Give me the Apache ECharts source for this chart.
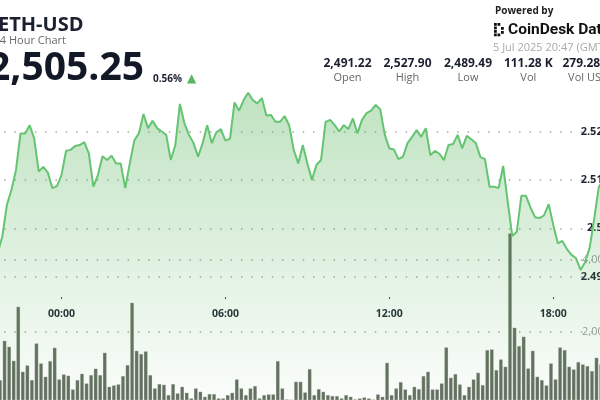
<!DOCTYPE html>
<html><head><meta charset="utf-8">
<script src="https://cdn.jsdelivr.net/npm/echarts@6/dist/echarts.min.js"></script>
<style>html,body{margin:0;padding:0;background:#fff;overflow:hidden}#c{width:600px;height:400px}</style>
</head><body><div id="c"></div>
<script>
// time of first 10-minute point, in minutes relative to 00:00 (21:40 previous day)
const startMinute = -140;
const stepMinutes = 10;

// ETH-USD close price per 10-minute interval
const prices = [
2495.0,2498.3,2504.8,2507.9,2512.0,2519.6,2519.6,2521.3,2518.6,2511.7,2512.7,2511.5,2508.3,2508.7,
2511.0,2516.0,2516.2,2517.0,2517.2,2517.8,2515.5,2508.6,2511.0,2514.9,2514.1,2515.0,2513.4,2513.4,
2508.3,2513.4,2518.2,2519.6,2523.6,2520.7,2522.2,2520.7,2520.0,2519.3,2514.1,2517.2,2525.7,2521.7,
2519.3,2517.6,2514.8,2517.6,2521.3,2517.6,2519.8,2520.5,2518.1,2518.5,2526.0,2524.3,2526.5,2528.0,
2526.5,2525.8,2526.9,2523.3,2523.4,2522.0,2522.0,2523.2,2521.3,2516.2,2513.4,2517.2,2513.4,2510.0,
2513.1,2514.1,2522.0,2522.4,2521.3,2520.0,2521.3,2520.5,2522.7,2519.6,2522.4,2523.8,2524.3,2525.5,
2524.6,2519.3,2516.5,2516.3,2514.3,2514.8,2517.6,2518.9,2520.3,2518.9,2520.7,2515.1,2516.0,2515.4,
2514.1,2517.2,2517.4,2519.3,2516.5,2519.1,2518.4,2517.6,2514.7,2514.3,2508.6,2508.6,2508.3,2512.9,
2505.5,2498.4,2499.3,2506.7,2506.7,2504.3,2502.3,2502.1,2502.7,2505.0,2500.7,2496.9,2497.4,2495.7,
2494.5,2493.8,2491.4,2493.0,2496.0,2502.0,2508.5,2510.0
];

// ETH volume per 10-minute interval
const volumes = [
665,1753,1587,1200,2695,895,1071,665,1680,1127,757,1191,1560,684,
822,785,406,665,840,572,803,979,803,1421,479,518,546,776,
1080,2806,1476,1385,1460,803,435,554,535,249,554,296,479,313,
158,435,341,202,277,277,158,158,249,313,684,435,249,435,
499,158,249,269,269,1191,435,130,120,618,618,323,970,249,
415,341,249,222,222,158,249,202,130,158,185,158,125,269,
202,1144,249,435,609,406,249,479,415,776,895,406,406,572,
1570,729,831,545,249,479,684,868,526,1496,1514,942,1237,1034,
4730,2114,1607,1865,988,1477,757,665,518,1127,684,1570,1496,1034,
961,1163,1099,1053,914,1283,1100,1000
];

const timeTicks = [0, 360, 720, 1080];
const timeTickLabels = ['00:00', '06:00', '12:00', '18:00'];
const priceTicks = [2490, 2500, 2510, 2520];
const volumeTicks = [2000, 4000];

const statValues = ['2,491.22', '2,527.90', '2,489.49', '111.28 K', '279.28 M'];
const statLabels = ['Open', 'High', 'Low', 'Vol', 'Vol USD'];

const times = prices.map((_, i) => startMinute + i * stepMinutes);
const lineData = prices.map((p, i) => [times[i], p]);
const barData = volumes.map((v, i) => [times[i] + stepMinutes / 2, v]);

const FONT = '"Open Sans", "Noto Sans", sans-serif';
const dotted = { type: [1.5, 8.8], color: '#a8a8a8', width: 1.5, dashOffset: -4 };

const graphics = [
  { type: 'text', x: -2, y: 25.3, style: { text: 'ETH-USD', fontFamily: FONT, fontSize: 20, fontWeight: 'bold', fill: '#1b2030', align: 'left', verticalAlign: 'middle' } },
  { type: 'text', x: -6.5, y: 40.5, style: { text: '24 Hour Chart', fontFamily: FONT, fontSize: 11, fill: '#6b6b6b', align: 'left', verticalAlign: 'middle' } },
  { type: 'text', x: -12, y: 69, style: { text: '2,505.25', fontFamily: FONT, fontSize: 39, fontWeight: 'bold', fill: '#121826', align: 'left', verticalAlign: 'middle' } },
  { type: 'text', x: 153, y: 79.3, style: { text: '0.56%', fontFamily: FONT, fontSize: 10, fontWeight: 'bold', fill: '#1b2030', align: 'left', verticalAlign: 'middle' } },
  { type: 'text', x: 187, y: 79, style: { text: '▲', fontFamily: 'DejaVu Sans', fontSize: 12, fill: '#5ab760', align: 'left', verticalAlign: 'middle' } },
  { type: 'text', x: 495, y: 11, style: { text: 'Powered by', fontFamily: FONT, fontSize: 10, fontWeight: 'bold', fill: '#222', align: 'left', verticalAlign: 'middle' } },
  { type: 'text', x: 508, y: 30, style: { text: 'CoinDesk Data', fontFamily: 'Roboto, sans-serif', fontSize: 15.5, fontWeight: 'bold', fill: '#111', align: 'left', verticalAlign: 'middle' } },
  { type: 'text', x: 493, y: 47.5, style: { text: '5 Jul 2025 20:47 (GMT)', fontFamily: FONT, fontSize: 11, fill: '#a9a9a9', align: 'left', verticalAlign: 'middle' } }
];
// logo mark: bracket of small squares and a colon
[[494,23],[494,26.5],[494,30],[494,33.5],[497.5,23],[497.5,33.5],[501,27],[501,31]].forEach(p => {
  graphics.push({ type: 'rect', shape: { x: p[0], y: p[1], width: 2.8, height: 2.8 }, style: { fill: '#111' } });
});
const statCenters = [347.5, 407.5, 468, 528.3, 588.5];
statValues.forEach((t, i) => {
  graphics.push({ type: 'text', x: statCenters[i], y: 63.5, style: { text: t, fontFamily: FONT, fontSize: 12, fontWeight: 'bold', fill: '#1b2030', align: 'center', verticalAlign: 'middle' } });
  graphics.push({ type: 'text', x: statCenters[i], y: 78, style: { text: statLabels[i], fontFamily: FONT, fontSize: 11, fill: '#666', align: 'center', verticalAlign: 'middle' } });
});

const chart = echarts.init(document.getElementById('c'), null, { renderer: 'canvas' });
chart.setOption({
  animation: false,
  backgroundColor: '#fff',
  grid: { left: 0, top: 0, right: 0, bottom: 0, containLabel: false, outerBoundsMode: 'none' },
  xAxis: {
    type: 'value',
    min: -135.07, max: 1182.66,
    offset: -103,
    axisLine: { show: false },
    splitLine: { show: false },
    axisTick: { show: true, length: 2, customValues: timeTicks, lineStyle: { color: '#555', width: 1.2 } },
    axisLabel: {
      customValues: timeTicks, margin: 12,
      formatter: v => timeTickLabels[timeTicks.indexOf(v)] || '',
      fontFamily: FONT, fontSize: 10.5, fontWeight: 'bold', color: '#1f2636'
    }
  },
  yAxis: [
    {
      type: 'value', position: 'right', offset: 20,
      min: 2464.52, max: 2547.17,
      axisLine: { show: false },
      axisTick: { show: false, customValues: priceTicks },
      splitLine: { show: true, lineStyle: dotted },
      axisLabel: {
        inside: true, margin: 10, customValues: priceTicks,
        formatter: v => parseFloat((v / 1000).toFixed(2)) + 'K',
        fontFamily: FONT, fontSize: 11, fontWeight: 'bold', color: '#1c2333'
      }
    },
    {
      type: 'value', position: 'right', offset: 20,
      min: 110.8, max: 11191,
      axisLine: { show: false },
      axisTick: { show: false, customValues: volumeTicks },
      splitLine: { show: true, lineStyle: dotted },
      axisLabel: {
        inside: true, margin: 10, customValues: volumeTicks,
        formatter: v => v.toLocaleString('en-US'),
        fontFamily: FONT, fontSize: 11, color: '#9c9c9c'
      }
    }
  ],
  series: [
    {
      type: 'line', yAxisIndex: 0, data: lineData, symbol: 'none', smooth: false,
      lineStyle: { color: '#64c472', width: 2 },
      itemStyle: { color: '#64c472' },
      areaStyle: {
        origin: 'start',
        color: new echarts.graphic.LinearGradient(0, 0, 0, 1, [
          { offset: 0, color: 'rgba(76,175,80,0.5)' },
          { offset: 1, color: 'rgba(76,175,80,0.03)' }
        ])
      }
    },
    {
      type: 'bar', yAxisIndex: 1, data: barData, barWidth: 3.8,
      itemStyle: { color: '#646e61', borderColor: 'rgba(215,222,213,0.7)', borderWidth: 0.4 }
    }
  ],
  graphic: graphics
});
</script>
</body></html>
